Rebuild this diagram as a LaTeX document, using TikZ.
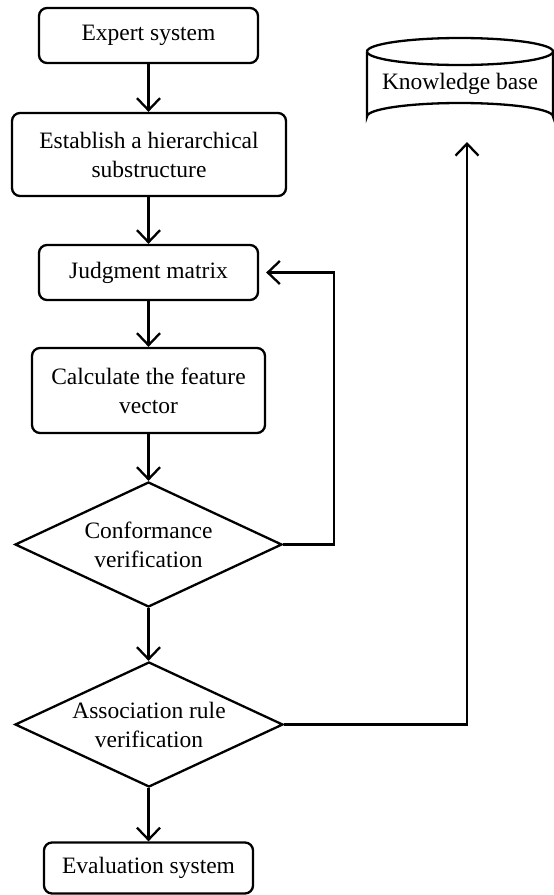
\documentclass[tikz,border=0pt]{standalone}
\usepackage{fontspec}
\setmainfont{Liberation Serif}
\usetikzlibrary{shapes.geometric,arrows.meta}
\begin{document}
\begin{tikzpicture}[x=1pt,y=-1pt,
  line width=2.3pt,
  every node/.style={font=\fontsize{23.5}{29}\selectfont, align=center, inner sep=0pt},
  rbox/.style={draw, rounded corners=8pt},
  dia/.style={draw, diamond, aspect=2.14},
  arr/.style={-{Straight Barb[length=12pt,width=23pt,line width=2.3pt]}}
]
\useasboundingbox (0,0) rectangle (554,895);
\node[rbox, minimum width=219pt, minimum height=55pt] (es) at (148.5,35.5) {Expert system};
\node[rbox, minimum width=274pt, minimum height=83pt] (est) at (149,154.5) {Establish a hierarchical\\substructure};
\node[rbox, minimum width=219pt, minimum height=55pt] (jm) at (148.5,272.5) {Judgment matrix};
\node[rbox, minimum width=233pt, minimum height=85pt] (cfv) at (148.5,390.5) {Calculate the feature\\vector};
\node[dia, minimum width=267pt, minimum height=125pt] (d1) at (148.5,544.5) {Conformance\\verification};
\node[dia, minimum width=268pt, minimum height=125pt] (d2) at (149,724.5) {Association rule\\verification};
\node[rbox, minimum width=209pt, minimum height=51pt] (ev) at (148.5,868) {Evaluation system};
% knowledge base cylinder
\draw (367,51.5) arc[start angle=180, end angle=0, x radius=93, y radius=13.5]
      arc[start angle=0, end angle=-180, x radius=93, y radius=13.5];
\draw (367,51.5) -- (367,116.5) arc[start angle=180, end angle=360, x radius=93, y radius=13.5] -- (553,51.5);
\node (kb) at (460,84) {Knowledge base};
\coordinate (kbb) at (467,130);
\coordinate (c1) at (334,544.5);
\coordinate (c2) at (467,724.5);
\draw[arr] (es.south) -- (est.north -| es.south);
\draw[arr] (est.south -| es.south) -- (jm.north);
\draw[arr] (jm.south) -- (cfv.north);
\draw[arr] (cfv.south) -- (d1.north);
\draw[arr] (d1.south) -- (d1.south |- d2.north);
\draw[arr] (d2.south -| d1.south) -- (ev.north);
\draw[arr, shorten >=7pt] (d1.east) -- (c1) |- (jm.east);
\draw[arr, shorten >=12pt] (d2.east) -- (c2) -- (kbb);
\end{tikzpicture}
\end{document}
